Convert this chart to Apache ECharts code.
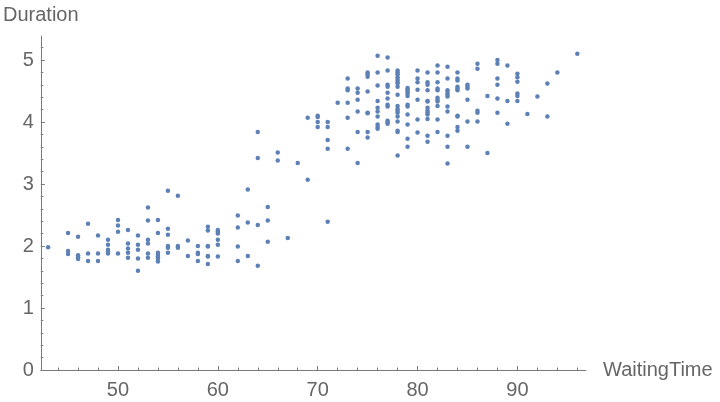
<!DOCTYPE html>
<html>
<head>
<meta charset="utf-8">
<script src="https://cdn.jsdelivr.net/npm/echarts@6/dist/echarts.min.js"></script>
<style>html,body{margin:0;padding:0;background:#fff}#c{width:720px;height:402px}</style>
</head>
<body>
<div id="c"></div>
<script>
// Waiting time (x) and eruption duration (y), column by column
const waitingTime = [
  43,
  45,45,45,
  46,46,46,46,
  47,47,47,
  48,48,48,
  49,49,49,49,49,
  50,50,50,50,
  51,51,51,51,51,
  52,52,52,52,52,
  53,53,53,53,53,53,
  54,54,54,54,54,54,54,
  55,55,55,55,55,55,
  56,56,56,
  57,57,
  58,58,58,58,
  59,59,59,59,59,59,59,
  60,60,60,60,60,60,
  62,62,62,62,
  63,63,63,
  64,64,64,64,
  65,65,65,
  66,66,
  67,
  68,
  69,69,
  70,70,70,70,
  71,71,71,71,71,
  72,
  73,73,73,73,73,73,
  74,74,74,74,74,74,
  75,75,75,75,75,75,75,75,
  76,76,76,76,76,76,76,76,76,76,
  77,77,77,77,77,77,77,77,77,77,77,
  78,78,78,78,78,78,78,78,78,78,78,78,78,78,78,78,78,78,
  79,79,79,79,79,79,79,79,79,79,79,
  80,80,80,80,80,80,80,
  81,81,81,81,81,81,81,81,81,81,81,81,81,
  82,82,82,82,82,82,82,82,82,82,82,
  83,83,83,83,83,83,83,83,83,83,83,
  84,84,84,84,84,84,84,84,84,84,
  85,85,85,85,85,85,
  86,86,86,86,86,
  87,87,
  88,88,88,88,88,88,
  89,89,89,
  90,90,90,90,90,90,
  91,
  92,
  93,93,
  94,
  96
];
const duration = [
  1.98,
  2.21,1.92,1.87,
  2.15,1.85,1.82,1.79,
  2.36,1.88,1.76,
  2.17,1.88,1.76,
  2.10,2.02,1.94,1.91,1.88,
  2.42,2.33,2.23,1.88,
  2.26,2.04,1.96,1.89,1.81,
  2.17,2.02,1.94,1.80,1.60,
  2.62,2.41,2.10,2.04,1.88,1.81,
  2.42,2.21,1.89,1.86,1.83,1.80,1.75,
  2.89,2.28,2.18,2.00,1.97,1.89,
  2.81,2.00,1.97,
  2.09,1.84,
  2.00,1.89,1.87,1.76,
  2.31,2.25,2.00,1.99,1.84,1.83,1.71,
  2.26,2.23,2.20,2.10,2.02,1.83,
  2.49,2.30,1.99,1.76,
  2.91,2.38,1.84,
  3.84,3.42,2.34,1.68,
  2.63,2.41,2.07,
  3.51,3.38,
  2.13,
  3.34,
  4.07,3.07,
  4.10,4.08,4.00,3.92,
  4.00,3.92,3.71,3.57,2.39,
  4.31,
  4.70,4.54,4.51,4.31,4.07,3.57,
  4.54,4.47,4.36,4.17,3.84,3.34,
  4.80,4.77,4.73,4.49,4.15,4.14,3.84,3.75,
  5.07,4.80,4.59,4.34,4.23,4.17,4.09,3.96,3.92,3.89,
  5.04,4.83,4.60,4.57,4.47,4.38,4.28,4.25,4.02,3.99,3.97,
  4.83,4.80,4.77,4.72,4.68,4.65,4.62,4.57,4.44,4.26,4.21,4.18,4.15,4.09,4.01,3.86,3.84,3.46,
  4.55,4.52,4.49,4.46,4.42,4.28,4.25,4.12,3.96,3.73,3.60,
  4.83,4.70,4.64,4.52,4.36,4.04,3.83,
  4.80,4.64,4.60,4.51,4.34,4.33,4.23,4.18,4.15,4.12,4.05,3.78,3.68,
  4.91,4.80,4.64,4.54,4.51,4.39,4.36,4.33,4.26,4.04,3.84,
  4.89,4.70,4.51,4.47,4.44,4.41,4.25,4.17,3.78,3.60,3.33,
  4.80,4.70,4.67,4.57,4.54,4.51,4.10,4.09,3.92,3.86,
  4.60,4.57,4.54,4.36,4.01,3.60,
  4.94,4.86,4.18,4.15,4.01,
  4.42,3.50,
  5.00,4.94,4.70,4.60,4.38,4.15,
  4.91,4.34,3.97,
  4.78,4.72,4.65,4.46,4.42,4.34,
  4.13,
  4.41,
  4.62,4.09,
  4.80,
  5.10
];
const xMajorTicks = [50, 60, 70, 80, 90];
const xMinorTicks = [44,46,48,52,54,56,58,62,64,66,68,72,74,76,78,82,84,86,88,92,94,96];
const yMajorTicks = [0, 1, 2, 3, 4, 5];
const yMinorTicks = [0.2,0.4,0.6,0.8,1.2,1.4,1.6,1.8,2.2,2.4,2.6,2.8,3.2,3.4,3.6,3.8,4.2,4.4,4.6,4.8,5.2];

const points = waitingTime.map((w, i) => [w, duration[i]]);

const axisColor = '#7a7a7a';
const labelColor = '#666666';
const font = "'Liberation Sans', Arial, sans-serif";
const X_MIN = 42.27, X_MAX = 96.87, Y_MIN = 0, Y_MAX = 5.387;

const chart = echarts.init(document.getElementById('c'), null, {renderer: 'canvas'});
chart.setOption({
  animation: false,
  backgroundColor: '#ffffff',
  grid: {left: 40, right: 134, top: 36, bottom: 32, containLabel: false},
  xAxis: [
    {
      type: 'value', min: X_MIN, max: X_MAX, position: 'bottom',
      name: 'WaitingTime', nameLocation: 'end', nameGap: 17,
      nameTextStyle: {color: labelColor, fontSize: 20, fontFamily: font, verticalAlign: 'middle', align: 'left', padding: [3, 0, 0, 0]},
      axisLine: {show: true, onZero: false, lineStyle: {color: axisColor, width: 1}},
      axisTick: {show: true, inside: true, length: 4, customValues: xMajorTicks, lineStyle: {color: axisColor}},
      axisLabel: {show: true, customValues: xMajorTicks, margin: 10, color: labelColor, fontSize: 20, fontFamily: font},
      splitLine: {show: false}
    },
    {
      type: 'value', min: X_MIN, max: X_MAX, position: 'bottom',
      axisLine: {show: false},
      axisTick: {show: true, inside: true, length: 2.5, customValues: xMinorTicks, lineStyle: {color: axisColor}},
      axisLabel: {show: false},
      splitLine: {show: false}
    }
  ],
  yAxis: [
    {
      type: 'value', min: Y_MIN, max: Y_MAX, position: 'left',
      name: 'Duration', nameLocation: 'end', nameGap: 11,
      nameTextStyle: {color: labelColor, fontSize: 20, fontFamily: font},
      axisLine: {show: true, onZero: false, lineStyle: {color: axisColor, width: 1}},
      axisTick: {show: true, inside: true, length: 4, customValues: yMajorTicks, lineStyle: {color: axisColor}},
      axisLabel: {show: true, customValues: yMajorTicks, margin: 7, color: labelColor, fontSize: 20, fontFamily: font},
      splitLine: {show: false}
    },
    {
      type: 'value', min: Y_MIN, max: Y_MAX, position: 'left',
      axisLine: {show: false},
      axisTick: {show: true, inside: true, length: 2.5, customValues: yMinorTicks, lineStyle: {color: axisColor}},
      axisLabel: {show: false},
      splitLine: {show: false}
    }
  ],
  series: [{
    type: 'scatter',
    xAxisIndex: 0, yAxisIndex: 0,
    data: points,
    symbol: 'circle',
    symbolSize: 4.5,
    itemStyle: {color: '#5e81b5', opacity: 1},
    silent: true
  }]
});
</script>
</body>
</html>
